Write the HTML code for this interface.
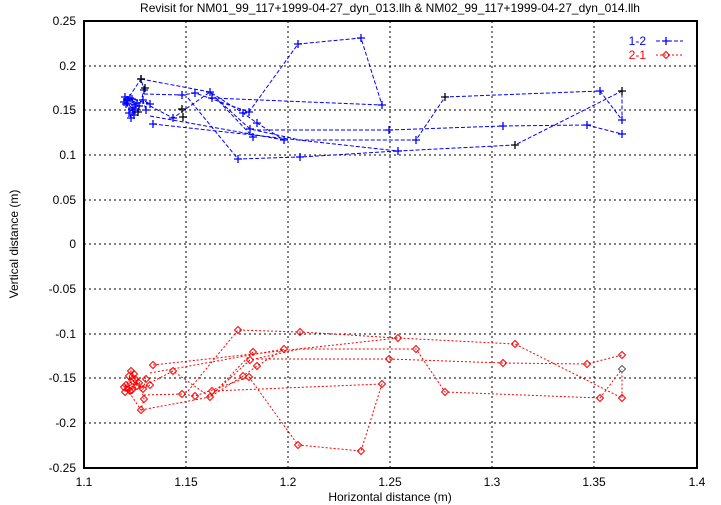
<!DOCTYPE html>
<html><head><meta charset="utf-8"><style>
html,body{margin:0;padding:0;background:#fff;}
svg{display:block;font-family:"Liberation Sans",sans-serif;}
</style></head><body>
<svg width="721" height="505" viewBox="0 0 721 505" xmlns="http://www.w3.org/2000/svg">
<defs>
<path id="p" d="M-4 0H4M0 -4V4" stroke-width="1.3" fill="none"/>
<path id="d" d="M0 -3.5L3.5 0L0 3.5L-3.5 0Z" stroke-width="1" fill="none"/>
<g id="lines" fill="none" stroke-width="1">
<polyline points="130,98 126,104 133,108 129,113 137,103 125,97 131,118 135,110 128,100 139,106 124,102 134,115 127,100 141,79 144,90 138,112 132,99 150,104 143,100 146,110"/>
<polyline points="141,79 210,92 243,113 257,123 284,140"/>
<polyline points="144,94 182,95 195,93 249,112 298,44 361,38 382,105 212,98"/>
<polyline points="153,124 398,151 515,145 622,91 622,120"/>
<polyline points="150,106 173,118 210,92 253,137"/>
<polyline points="188,98 238,159 300,157 398,151"/>
<polyline points="257,130 389,130 503,126 587,125 622,134"/>
<polyline points="216,98 250,129 300,140 416,140 445,97 600,91 622,120"/>
<polyline points="150,116 284,140"/>
</g>
<g id="pts">
<use href="#M" x="0"/>
</g>
</defs>
<rect width="721" height="505" fill="#fff"/>
<text x="390" y="12" font-size="12" text-anchor="middle">Revisit for NM01_99_117+1999-04-27_dyn_013.llh &amp; NM02_99_117+1999-04-27_dyn_014.llh</text>
<g stroke="#000" stroke-width="1" stroke-dasharray="2,3">
<line x1="186" y1="21" x2="186" y2="468"/><line x1="288" y1="21" x2="288" y2="468"/><line x1="390" y1="21" x2="390" y2="468"/><line x1="492" y1="21" x2="492" y2="468"/><line x1="594" y1="21" x2="594" y2="468"/>
<line x1="84" y1="66" x2="697" y2="66"/><line x1="84" y1="110" x2="697" y2="110"/><line x1="84" y1="155" x2="697" y2="155"/><line x1="84" y1="200" x2="697" y2="200"/><line x1="84" y1="244" x2="697" y2="244"/><line x1="84" y1="289" x2="697" y2="289"/><line x1="84" y1="334" x2="697" y2="334"/><line x1="84" y1="378" x2="697" y2="378"/><line x1="84" y1="423" x2="697" y2="423"/>
</g>
<rect x="84" y="21" width="613" height="447" fill="none" stroke="#000" stroke-width="2"/>
<g font-size="12" text-anchor="end">
<text x="76" y="25">0.25</text><text x="76" y="70">0.2</text><text x="76" y="114">0.15</text><text x="76" y="159">0.1</text><text x="76" y="204">0.05</text><text x="76" y="248">0</text><text x="76" y="293">-0.05</text><text x="76" y="338">-0.1</text><text x="76" y="382">-0.15</text><text x="76" y="427">-0.2</text><text x="76" y="472">-0.25</text>
</g>
<g font-size="12" text-anchor="middle">
<text x="84" y="486">1.1</text><text x="186" y="486">1.15</text><text x="288" y="486">1.2</text><text x="390" y="486">1.25</text><text x="492" y="486">1.3</text><text x="594" y="486">1.35</text><text x="697" y="486">1.4</text>
<text x="390" y="501">Horizontal distance (m)</text>
<text transform="translate(18,244) rotate(-90)">Vertical distance (m)</text>
</g>
<use href="#lines" stroke="#0000ff" stroke-dasharray="4,2"/>
<g stroke="#0000ff">
<use href="#p" x="130" y="98"/><use href="#p" x="126" y="104"/><use href="#p" x="133" y="108"/><use href="#p" x="129" y="113"/><use href="#p" x="137" y="103"/><use href="#p" x="125" y="97"/><use href="#p" x="131" y="118"/><use href="#p" x="135" y="110"/><use href="#p" x="128" y="100"/><use href="#p" x="139" y="106"/><use href="#p" x="124" y="102"/><use href="#p" x="134" y="115"/><use href="#p" x="127" y="100"/><use href="#p" x="132" y="99"/><use href="#p" x="150" y="104"/><use href="#p" x="143" y="100"/><use href="#p" x="146" y="110"/><use href="#p" x="153" y="124"/><use href="#p" x="173" y="118"/><use href="#p" x="144" y="90"/><use href="#p" x="141" y="79"/>
<use href="#p" x="182" y="95"/><use href="#p" x="195" y="93"/><use href="#p" x="210" y="92"/><use href="#p" x="212" y="98"/><use href="#p" x="238" y="159"/><use href="#p" x="300" y="157"/><use href="#p" x="243" y="113"/><use href="#p" x="249" y="112"/><use href="#p" x="257" y="123"/><use href="#p" x="250" y="129"/><use href="#p" x="253" y="137"/><use href="#p" x="284" y="140"/><use href="#p" x="298" y="44"/><use href="#p" x="361" y="38"/><use href="#p" x="382" y="105"/><use href="#p" x="389" y="130"/><use href="#p" x="398" y="151"/><use href="#p" x="416" y="140"/><use href="#p" x="503" y="126"/><use href="#p" x="587" y="125"/><use href="#p" x="600" y="91"/><use href="#p" x="622" y="134"/><use href="#p" x="622" y="120"/>
</g>
<g stroke="#000">
<use href="#p" x="141" y="79"/><use href="#p" x="145" y="88"/><use href="#p" x="138" y="112"/><use href="#p" x="182" y="109"/><use href="#p" x="183" y="117"/><use href="#p" x="622" y="91"/><use href="#p" x="445" y="97"/><use href="#p" x="515" y="145"/>
</g>
<g transform="translate(0,489) scale(1,-1)">
<use href="#lines" stroke="#ff0000" stroke-dasharray="2,2"/>
<g stroke="#ff0000">
<use href="#d" x="130" y="98"/><use href="#d" x="126" y="104"/><use href="#d" x="133" y="108"/><use href="#d" x="129" y="113"/><use href="#d" x="137" y="103"/><use href="#d" x="125" y="97"/><use href="#d" x="131" y="118"/><use href="#d" x="135" y="110"/><use href="#d" x="128" y="100"/><use href="#d" x="139" y="106"/><use href="#d" x="124" y="102"/><use href="#d" x="134" y="115"/><use href="#d" x="132" y="99"/><use href="#d" x="150" y="104"/><use href="#d" x="143" y="100"/><use href="#d" x="146" y="110"/><use href="#d" x="153" y="124"/><use href="#d" x="173" y="118"/><use href="#d" x="144" y="90"/><use href="#d" x="141" y="79"/>
<use href="#d" x="182" y="95"/><use href="#d" x="195" y="93"/><use href="#d" x="210" y="92"/><use href="#d" x="212" y="98"/><use href="#d" x="238" y="159"/><use href="#d" x="300" y="157"/><use href="#d" x="243" y="113"/><use href="#d" x="249" y="112"/><use href="#d" x="257" y="123"/><use href="#d" x="250" y="129"/><use href="#d" x="253" y="137"/><use href="#d" x="284" y="140"/><use href="#d" x="298" y="44"/><use href="#d" x="361" y="38"/><use href="#d" x="382" y="105"/><use href="#d" x="389" y="130"/><use href="#d" x="398" y="151"/><use href="#d" x="416" y="140"/><use href="#d" x="503" y="126"/><use href="#d" x="587" y="125"/><use href="#d" x="600" y="91"/><use href="#d" x="622" y="134"/><use href="#d" x="445" y="97"/><use href="#d" x="515" y="145"/><use href="#d" x="622" y="91"/>
</g>
<g stroke="#555"><use href="#d" x="622" y="120"/></g>
</g>
<text x="646" y="45" font-size="12" fill="#0000ff" text-anchor="end">1-2</text>
<line x1="656" y1="41" x2="683" y2="41" stroke="#0000ff" stroke-dasharray="4,2"/>
<use href="#p" x="666" y="41" stroke="#0000ff"/>
<text x="646" y="59" font-size="12" fill="#ff0000" text-anchor="end">2-1</text>
<line x1="656" y1="55" x2="683" y2="55" stroke="#ff0000" stroke-dasharray="2,2"/>
<use href="#d" x="666" y="55" stroke="#ff0000" fill="#fff"/>
</svg>
</body></html>
